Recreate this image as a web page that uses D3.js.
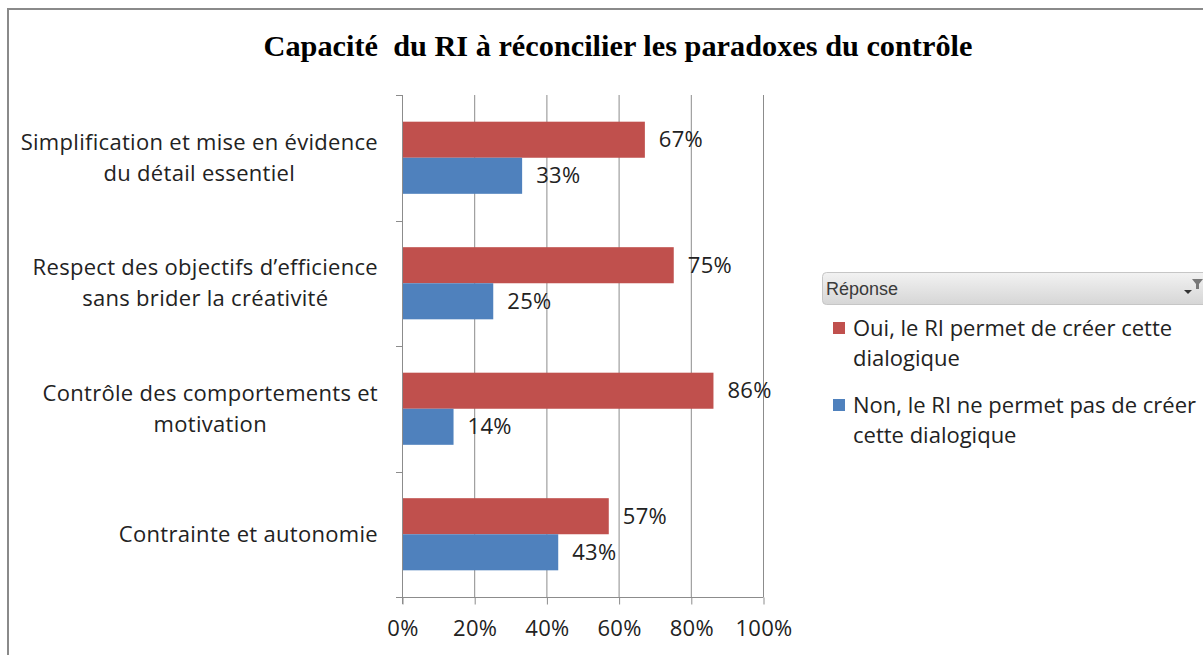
<!DOCTYPE html>
<html>
<head>
<meta charset="utf-8">
<script src="https://cdn.jsdelivr.net/npm/d3@7"></script>
<style>
  html, body { margin: 0; padding: 0; background: #fff; }
  svg { display: block; }
</style>
</head>
<body>
<svg id="chart" width="1203" height="655"></svg>
<script>
// Survey categories (top to bottom) and the two answer series, in percent
const categories = [
  "Simplification et mise en évidence\ndu détail essentiel",
  "Respect des objectifs d’efficience\nsans brider la créativité",
  "Contrôle des comportements et\nmotivation",
  "Contrainte et autonomie"
];
const seriesNames = [
  "Oui, le RI permet de créer cette\ndialogique",
  "Non, le RI ne permet pas de créer\ncette dialogique"
];
const ouiValues = [67, 75, 86, 57];
const nonValues = [33, 25, 14, 43];
const xTicks = [0, 20, 40, 60, 80, 100];
const titleText = "Capacité  du RI à réconcilier les paradoxes du contrôle";
const legendTitle = "Réponse";

const colors = ["#C0504D", "#4F81BD"];
const uiFont = "'Open Sans', 'Noto Sans', sans-serif";
const uiSize = 22;
const uiSpacing = 0.3;

const svg = d3.select("#chart");

// Outer frame (top and left edges visible)
svg.append("path")
  .attr("d", "M8,655 L8,9 L1203,9")
  .attr("fill", "none")
  .attr("stroke", "#8a8a8a")
  .attr("stroke-width", 2);

// Title
svg.append("text")
  .attr("x", 618)
  .attr("y", 56)
  .attr("text-anchor", "middle")
  .attr("font-family", "'Liberation Serif', 'Times New Roman', serif")
  .attr("font-weight", "bold")
  .attr("font-size", 30.3)
  .attr("fill", "#000")
  .style("white-space", "pre")
  .text(titleText);

// Plot area
const plot = { left: 402, right: 763, top: 95, bottom: 597 };

const x = d3.scaleLinear().domain([0, 100]).range([plot.left, plot.right]);
const y = d3.scaleBand().domain(d3.range(categories.length)).range([plot.top, plot.bottom]).paddingInner(0).paddingOuter(0);
const ySub = d3.scaleBand().domain([0, 1]).range([0, y.bandwidth()]).paddingInner(0).paddingOuter(0.74);

const gridColor = "#8c8c8c";

// Vertical gridlines
svg.append("g")
  .selectAll("line")
  .data(xTicks.slice(1))
  .join("line")
  .attr("x1", d => x(d) + 0.5)
  .attr("x2", d => x(d) + 0.5)
  .attr("y1", plot.top)
  .attr("y2", plot.bottom)
  .attr("stroke", gridColor)
  .attr("stroke-width", 1);

// Category axis (left)
svg.append("line")
  .attr("x1", plot.left + 0.5).attr("x2", plot.left + 0.5)
  .attr("y1", plot.top).attr("y2", plot.bottom + 7)
  .attr("stroke", gridColor);
const bounds = d3.range(categories.length + 1).map(i => plot.top + i * y.step());
svg.append("g")
  .selectAll("line")
  .data(bounds)
  .join("line")
  .attr("x1", plot.left - 6)
  .attr("x2", plot.left)
  .attr("y1", d => Math.round(d) + 0.5)
  .attr("y2", d => Math.round(d) + 0.5)
  .attr("stroke", gridColor);

// Value axis (bottom)
const xAxis = d3.axisBottom(x)
  .tickValues(xTicks)
  .tickFormat(d => d + "%")
  .tickSize(7)
  .tickSizeOuter(0)
  .tickPadding(16);
const gx = svg.append("g")
  .attr("transform", `translate(0.5,${plot.bottom + 0.5})`)
  .call(xAxis);
gx.select(".domain").attr("stroke", gridColor).attr("d", `M${plot.left - 6 - 0.5},0H${plot.right}`);
gx.selectAll(".tick line").attr("stroke", gridColor);
gx.selectAll(".tick text")
  .attr("font-family", uiFont)
  .attr("font-size", uiSize)
  .attr("letter-spacing", uiSpacing)
  .attr("fill", "#222");

// Bars
const seriesValues = [ouiValues, nonValues];
const barData = [];
categories.forEach((c, i) => {
  seriesValues.forEach((vals, s) => {
    barData.push({ cat: i, s, v: vals[i] });
  });
});

svg.append("g")
  .selectAll("rect")
  .data(barData)
  .join("rect")
  .attr("x", x(0) + 1)
  .attr("y", d => y(d.cat) + ySub(d.s))
  .attr("width", d => x(d.v) - x(0))
  .attr("height", ySub.bandwidth())
  .attr("fill", d => colors[d.s]);

// Value labels
svg.append("g")
  .selectAll("text")
  .data(barData)
  .join("text")
  .attr("x", d => x(d.v) + 15)
  .attr("y", d => y(d.cat) + ySub(d.s) + ySub.bandwidth() / 2)
  .attr("dy", "0.35em")
  .attr("font-family", uiFont)
  .attr("font-size", uiSize)
  .attr("letter-spacing", uiSpacing)
  .attr("fill", "#222")
  .text(d => d.v + "%");

// Category labels: block right-aligned, lines centred within the block
const catG = svg.append("g");
const lineH = 31;
categories.forEach((c, i) => {
  const lines = c.split("\n");
  const t = catG.append("text")
    .attr("font-family", uiFont)
    .attr("font-size", uiSize)
    .attr("letter-spacing", uiSpacing)
    .attr("fill", "#222")
    .attr("text-anchor", "middle");
  const cy = y(i) + y.bandwidth() / 2;
  const spans = lines.map((ln, k) =>
    t.append("tspan")
      .attr("y", cy + (k - (lines.length - 1) / 2) * lineH)
      .attr("dy", "0.35em")
      .text(ln));
  const maxW = d3.max(spans, sp => sp.node().getComputedTextLength());
  const cx = 378 - maxW / 2;
  spans.forEach(sp => sp.attr("x", cx));
});

// Legend header bar
const defs = svg.append("defs");
const grad = defs.append("linearGradient").attr("id", "hdr").attr("x1", 0).attr("y1", 0).attr("x2", 0).attr("y2", 1);
grad.append("stop").attr("offset", "0%").attr("stop-color", "#f2f2f2");
grad.append("stop").attr("offset", "100%").attr("stop-color", "#d6d6d6");

svg.append("rect")
  .attr("x", 822.5).attr("y", 272.5)
  .attr("width", 420).attr("height", 32)
  .attr("rx", 4)
  .attr("fill", "url(#hdr)")
  .attr("stroke", "#c6c6c6");
svg.append("text")
  .attr("x", 826).attr("y", 295)
  .attr("font-family", "'Liberation Sans', Arial, sans-serif")
  .attr("font-size", 18)
  .attr("fill", "#3a3a3a")
  .text(legendTitle);
// filter / drop-down glyph
svg.append("path")
  .attr("d", "M1192,279 L1203,279 L1199,284 L1199,289 L1196,289 L1196,284 Z")
  .attr("fill", "#777");
svg.append("path")
  .attr("d", "M1184,290 L1192,290 L1188,294 Z")
  .attr("fill", "#333");

// Legend entries
const legY = [328, 405];
seriesNames.forEach((name, s) => {
  svg.append("rect")
    .attr("x", 833).attr("y", legY[s] - 6)
    .attr("width", 12).attr("height", 12)
    .attr("fill", colors[s]);
  const t = svg.append("text")
    .attr("font-family", uiFont)
    .attr("font-size", uiSize)
    .attr("letter-spacing", 0)
    .attr("fill", "#222");
  name.split("\n").forEach((ln, k) => {
    t.append("tspan")
      .attr("x", 853)
      .attr("y", legY[s] + k * 30)
      .attr("dy", "0.35em")
      .text(ln);
  });
});
</script>
</body>
</html>
